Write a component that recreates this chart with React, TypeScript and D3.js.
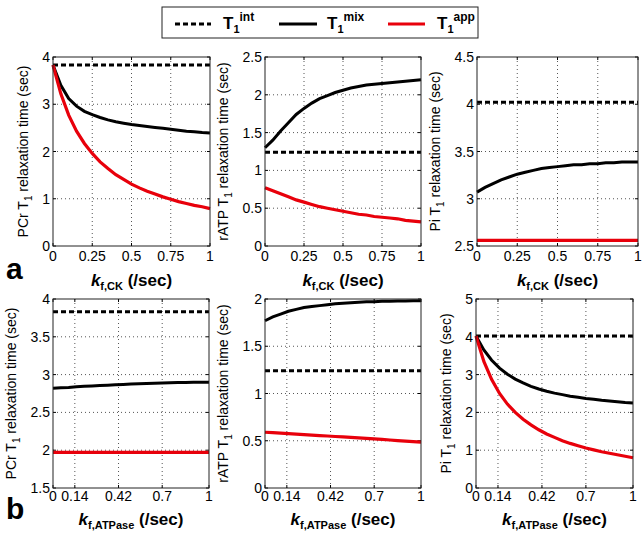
import React from "react";
import * as d3 from "d3";

// ---- data ----
const kCK = [0, 0.05, 0.1, 0.15, 0.2, 0.25, 0.3, 0.35, 0.4, 0.45, 0.5, 0.55, 0.6, 0.65, 0.7, 0.75, 0.8, 0.85, 0.9, 0.95, 1];
const kATPase = [0, 0.05, 0.1, 0.15, 0.2, 0.25, 0.3, 0.35, 0.4, 0.45, 0.5, 0.55, 0.6, 0.65, 0.7, 0.75, 0.8, 0.85, 0.9, 0.95, 1];

const xTicksCK = [0, 0.25, 0.5, 0.75, 1];
const xTickLabelsCK = ["0", "0.25", "0.5", "0.75", "1"];
const xTicksATPase = [0, 0.14, 0.42, 0.7, 1];
const xTickLabelsATPase = ["0", "0.14", "0.42", "0.7", "1"];

// row a (vs kf,CK)
const pcrIntCK = [3.83, 3.83];
const pcrMixCK = [3.83, 3.40, 3.12, 2.96, 2.85, 2.78, 2.72, 2.67, 2.63, 2.60, 2.57, 2.55, 2.53, 2.51, 2.49, 2.47, 2.45, 2.43, 2.42, 2.40, 2.39];
const pcrAppCK = [3.83, 3.22, 2.77, 2.43, 2.17, 1.96, 1.78, 1.64, 1.51, 1.41, 1.31, 1.23, 1.16, 1.10, 1.04, 0.99, 0.94, 0.90, 0.86, 0.83, 0.79];
const atpIntCK = [1.24, 1.24];
const atpMixCK = [1.30, 1.40, 1.52, 1.63, 1.74, 1.82, 1.89, 1.95, 1.99, 2.03, 2.06, 2.09, 2.11, 2.13, 2.14, 2.15, 2.16, 2.17, 2.18, 2.19, 2.20];
const atpAppCK = [0.77, 0.73, 0.69, 0.65, 0.61, 0.58, 0.55, 0.52, 0.50, 0.48, 0.46, 0.44, 0.42, 0.41, 0.39, 0.38, 0.37, 0.36, 0.34, 0.33, 0.32];
const piIntCK = [4.02, 4.02];
const piMixCK = [3.07, 3.12, 3.16, 3.20, 3.23, 3.26, 3.28, 3.30, 3.32, 3.33, 3.34, 3.35, 3.36, 3.36, 3.37, 3.37, 3.38, 3.38, 3.39, 3.39, 3.39];
const piAppCK = [2.56, 2.56];

// row b (vs kf,ATPase)
const pcrIntATPase = [3.83, 3.83];
const pcrMixATPase = [2.82, 2.825, 2.83, 2.84, 2.845, 2.85, 2.855, 2.86, 2.865, 2.87, 2.875, 2.878, 2.882, 2.885, 2.888, 2.891, 2.894, 2.896, 2.898, 2.899, 2.90];
const pcrAppATPase = [1.97, 1.97];
const atpIntATPase = [1.24, 1.24];
const atpMixATPase = [1.77, 1.81, 1.84, 1.87, 1.89, 1.91, 1.92, 1.93, 1.94, 1.95, 1.955, 1.96, 1.965, 1.97, 1.972, 1.975, 1.977, 1.979, 1.98, 1.981, 1.982];
const atpAppATPase = [0.59, 0.585, 0.58, 0.575, 0.57, 0.565, 0.56, 0.555, 0.55, 0.545, 0.54, 0.535, 0.53, 0.525, 0.52, 0.514, 0.508, 0.502, 0.496, 0.49, 0.485];
const piIntATPase = [4.02, 4.02];
const piMixATPase = [4.02, 3.65, 3.38, 3.17, 3.01, 2.88, 2.78, 2.69, 2.62, 2.56, 2.51, 2.47, 2.43, 2.40, 2.37, 2.35, 2.32, 2.30, 2.28, 2.26, 2.25];
const piAppATPase = [4.02, 3.35, 2.87, 2.50, 2.22, 2.00, 1.82, 1.67, 1.54, 1.43, 1.34, 1.25, 1.18, 1.12, 1.06, 1.01, 0.96, 0.92, 0.88, 0.84, 0.80];

const FONT = "'Liberation Sans', Arial, sans-serif";

type PanelProps = {
  left: number; right: number; top: number; bottom: number;
  yDomain: [number, number]; yTicks: number[]; yTickLabels: string[];
  xTicks: number[]; xTickLabels: string[]; xs: number[];
  int: number[]; mix: number[]; app: number[];
  species: string; xSub: string; yLabelOffset: number; xTitleY: number; xTickY: number;
};

function Panel(p: PanelProps) {
  const x = d3.scaleLinear().domain([0, 1]).range([p.left, p.right]);
  const y = d3.scaleLinear().domain(p.yDomain).range([p.bottom, p.top]);
  const line = d3.line<[number, number]>().x(d => x(d[0])).y(d => y(d[1]));
  const series = (vals: number[]) =>
    vals.length === 2
      ? line([[0, vals[0]], [1, vals[1]]])!
      : line(vals.map((v, i) => [p.xs[i], v] as [number, number]))!;
  const cy = (p.top + p.bottom) / 2;
  const lx = p.left - p.yLabelOffset;
  return (
    <g>
      {p.xTicks.filter(t => t > 0 && t < 1).map(t => (
        <line key={"gx" + t} x1={x(t)} x2={x(t)} y1={p.top} y2={p.bottom} stroke="#555" strokeWidth={1} strokeDasharray="1,3" />
      ))}
      {p.yTicks.filter(t => t > p.yDomain[0] && t < p.yDomain[1]).map(t => (
        <line key={"gy" + t} x1={p.left} x2={p.right} y1={y(t)} y2={y(t)} stroke="#555" strokeWidth={1} strokeDasharray="1,3" />
      ))}
      {p.xTicks.map(t => (
        <g key={"tx" + t}>
          <line x1={x(t)} x2={x(t)} y1={p.bottom} y2={p.bottom - 3} stroke="#000" />
          <line x1={x(t)} x2={x(t)} y1={p.top} y2={p.top + 3} stroke="#000" />
        </g>
      ))}
      {p.yTicks.map(t => (
        <g key={"ty" + t}>
          <line x1={p.left} x2={p.left + 3} y1={y(t)} y2={y(t)} stroke="#000" />
          <line x1={p.right} x2={p.right - 3} y1={y(t)} y2={y(t)} stroke="#000" />
        </g>
      ))}
      <path d={series(p.int)} fill="none" stroke="#000" strokeWidth={3} strokeDasharray="5,3" />
      <path d={series(p.mix)} fill="none" stroke="#000" strokeWidth={3} />
      <path d={series(p.app)} fill="none" stroke="#e8000b" strokeWidth={3.2} />
      <rect x={p.left} y={p.top} width={p.right - p.left} height={p.bottom - p.top} fill="none" stroke="#222" strokeWidth={1} />
      {p.xTicks.map((t, i) => (
        <text key={"lx" + t} x={x(t)} y={p.xTickY} textAnchor="middle" fontSize={14} fontFamily={FONT}>{p.xTickLabels[i]}</text>
      ))}
      {p.yTicks.map((t, i) => (
        <text key={"ly" + t} x={p.left - 3} y={y(t) + 5} textAnchor="end" fontSize={14} fontFamily={FONT}>{p.yTickLabels[i]}</text>
      ))}
      <text transform={`translate(${lx},${cy}) rotate(-90)`} textAnchor="middle" fontSize={14} fontFamily={FONT}>
        {p.species} T<tspan fontSize={10} dy={4}>1</tspan><tspan dy={-4}> relaxation time (sec)</tspan>
      </text>
      <text x={(p.left + p.right) / 2} y={p.xTitleY} textAnchor="middle" fontFamily={FONT} fontWeight="bold" fontSize={17}>
        <tspan fontStyle="italic">k</tspan><tspan fontSize={11} dy={4}>{p.xSub}</tspan><tspan dy={-4}> (/sec)</tspan>
      </text>
    </g>
  );
}

export default function App() {
  const topRow = { top: 57, bottom: 246, xTicks: xTicksCK, xTickLabels: xTickLabelsCK, xs: kCK, xSub: "f,CK", xTitleY: 286, xTickY: 261 };
  const botRow = { top: 299, bottom: 488, xTicks: xTicksATPase, xTickLabels: xTickLabelsATPase, xs: kATPase, xSub: "f,ATPase", xTitleY: 525, xTickY: 501 };
  return (
    <svg width={643} height={541} style={{ position: "absolute", left: 0, top: 0, background: "#fff" }}>
      <rect x={0} y={0} width={643} height={541} fill="#fff" />
      <g fontFamily={FONT} fontWeight="bold">
        <rect x={162} y={7} width={316} height={31} fill="#fff" stroke="#222" strokeWidth={1} />
        <line x1={175} x2={211} y1={24} y2={24} stroke="#000" strokeWidth={3} strokeDasharray="5,3" />
        <text x={223} y={29} fontSize={17}>T<tspan fontSize={11} dy={4}>1</tspan><tspan fontSize={12} dy={-12}>int</tspan></text>
        <line x1={279} x2={317} y1={24} y2={24} stroke="#000" strokeWidth={3} />
        <text x={327} y={29} fontSize={17}>T<tspan fontSize={11} dy={4}>1</tspan><tspan fontSize={12} dy={-12}>mix</tspan></text>
        <line x1={388} x2={425} y1={24} y2={24} stroke="#e8000b" strokeWidth={3} />
        <text x={437} y={29} fontSize={17}>T<tspan fontSize={11} dy={4}>1</tspan><tspan fontSize={12} dy={-12}>app</tspan></text>
      </g>
      <Panel {...topRow} left={53} right={210} yDomain={[0, 4]} yTicks={[0, 1, 2, 3, 4]} yTickLabels={["0", "1", "2", "3", "4"]}
        int={pcrIntCK} mix={pcrMixCK} app={pcrAppCK} species="PCr" yLabelOffset={25} />
      <Panel {...topRow} left={265} right={421} yDomain={[0, 2.5]} yTicks={[0, 0.5, 1, 1.5, 2, 2.5]} yTickLabels={["0", "0.5", "1", "1.5", "2", "2.5"]}
        int={atpIntCK} mix={atpMixCK} app={atpAppCK} species="rATP" yLabelOffset={37} />
      <Panel {...topRow} left={477} right={638} yDomain={[2.5, 4.5]} yTicks={[2.5, 3, 3.5, 4, 4.5]} yTickLabels={["2.5", "3", "3.5", "4", "4.5"]}
        int={piIntCK} mix={piMixCK} app={piAppCK} species="Pi" yLabelOffset={37} />
      <Panel {...botRow} left={53} right={209} yDomain={[1.5, 4]} yTicks={[1.5, 2, 2.5, 3, 3.5, 4]} yTickLabels={["1.5", "2", "2.5", "3", "3.5", "4"]}
        int={pcrIntATPase} mix={pcrMixATPase} app={pcrAppATPase} species="PCr" yLabelOffset={37} />
      <Panel {...botRow} left={265} right={421} yDomain={[0, 2]} yTicks={[0, 0.5, 1, 1.5, 2]} yTickLabels={["0", "0.5", "1", "1.5", "2"]}
        int={atpIntATPase} mix={atpMixATPase} app={atpAppATPase} species="rATP" yLabelOffset={37} />
      <Panel {...botRow} left={476} right={633} yDomain={[0, 5]} yTicks={[0, 1, 2, 3, 4, 5]} yTickLabels={["0", "1", "2", "3", "4", "5"]}
        int={piIntATPase} mix={piMixATPase} app={piAppATPase} species="Pi" yLabelOffset={25} />
      <text x={6} y={279} fontFamily={FONT} fontWeight="bold" fontSize={30}>a</text>
      <text x={6} y={519} fontFamily={FONT} fontWeight="bold" fontSize={30}>b</text>
    </svg>
  );
}
